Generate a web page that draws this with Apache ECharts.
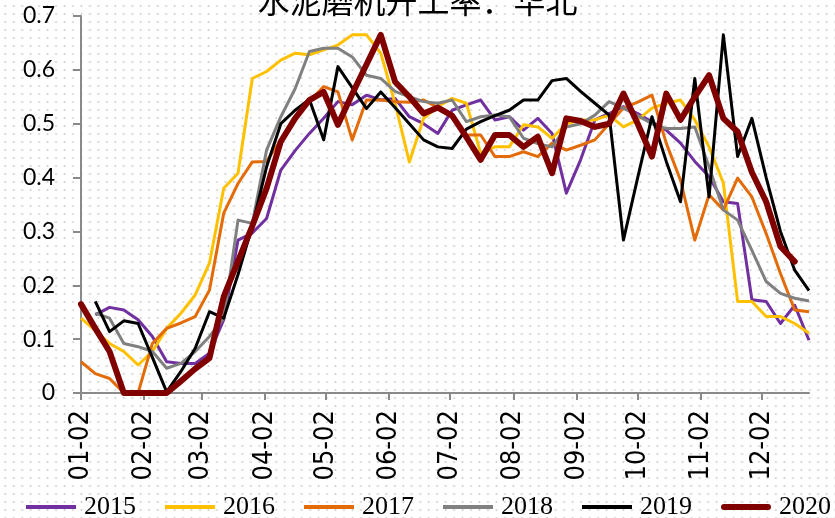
<!DOCTYPE html>
<html>
<head>
<meta charset="utf-8">
<script src="https://cdn.jsdelivr.net/npm/echarts@6/dist/echarts.min.js"></script>
<style>
html,body{margin:0;padding:0;background:#fff;}
#c{width:835px;height:518px;
background-color:#fff;
background-image:radial-gradient(circle, #cfcfcf 0.8px, rgba(255,255,255,0) 1.2px);
background-size:8.47px 8px;
background-position:1px 2px;}
</style>
</head>
<body>
<div id="c"></div>
<script>
// ---- data ----
const title = '水泥磨机开工率：华北';
const seriesNames = ['2015', '2016', '2017', '2018', '2019', '2020'];
const tickLabels = ['01-02','02-02','03-02','04-02','05-02','06-02','07-02','08-02','09-02','10-02','11-02','12-02'];
// first weekly point, in weeks after 01-02
const startWeek = [1, 0, 0, 1, 1, 0];
const v2015 = [0.145,0.159,0.154,0.136,0.105,0.058,0.055,0.055,0.074,0.136,0.284,0.297,0.324,0.414,0.45,0.482,0.51,0.541,0.535,0.553,0.544,0.547,0.513,0.50,0.482,0.525,0.535,0.544,0.507,0.513,0.488,0.51,0.482,0.371,0.433,0.507,0.519,0.532,0.519,0.503,0.488,0.464,0.43,0.402,0.355,0.352,0.173,0.17,0.129,0.163,0.098];
const v2016 = [0.139,0.116,0.092,0.077,0.052,0.077,0.12,0.148,0.182,0.241,0.38,0.408,0.584,0.597,0.618,0.631,0.628,0.637,0.646,0.665,0.665,0.631,0.538,0.429,0.51,0.532,0.547,0.538,0.445,0.457,0.457,0.498,0.494,0.473,0.50,0.507,0.507,0.516,0.494,0.507,0.529,0.538,0.544,0.507,0.457,0.39,0.17,0.17,0.142,0.142,0.129,0.111];
const v2017 = [0.058,0.036,0.027,0,0,0.092,0.12,0.13,0.142,0.191,0.334,0.389,0.429,0.43,0.47,0.513,0.541,0.569,0.559,0.47,0.544,0.544,0.541,0.54,0.544,0.53,0.516,0.479,0.479,0.439,0.439,0.448,0.439,0.464,0.451,0.46,0.47,0.50,0.529,0.54,0.553,0.464,0.395,0.284,0.368,0.34,0.399,0.364,0.296,0.222,0.154,0.151];
const v2018 = [0.148,0.139,0.092,0.086,0.077,0.046,0.055,0.077,0.105,0.139,0.321,0.315,0.451,0.513,0.565,0.634,0.64,0.64,0.624,0.59,0.584,0.56,0.55,0.541,0.538,0.544,0.504,0.513,0.516,0.513,0.473,0.463,0.457,0.494,0.50,0.516,0.541,0.529,0.515,0.50,0.491,0.491,0.494,0.42,0.34,0.321,0.265,0.207,0.185,0.176,0.171];
const v2019 = [0.17,0.114,0.134,0.129,0.066,0.002,0.04,0.083,0.151,0.139,0.22,0.31,0.42,0.50,0.525,0.545,0.47,0.606,0.567,0.528,0.559,0.53,0.50,0.47,0.457,0.454,0.49,0.504,0.515,0.525,0.544,0.544,0.58,0.584,0.56,0.538,0.516,0.284,0.40,0.513,0.43,0.355,0.584,0.364,0.665,0.439,0.51,0.40,0.30,0.228,0.19];
const v2020 = [0.165,0.12,0.077,0,0,0,0,0.022,0.045,0.065,0.179,0.245,0.31,0.38,0.467,0.51,0.544,0.559,0.498,0.555,0.61,0.665,0.578,0.55,0.519,0.53,0.515,0.475,0.433,0.479,0.479,0.457,0.476,0.408,0.51,0.505,0.494,0.50,0.556,0.50,0.439,0.556,0.507,0.55,0.59,0.51,0.485,0.41,0.355,0.272,0.244];
const values = [v2015, v2016, v2017, v2018, v2019, v2020];
const colors = ['#7030A0', '#FFC000', '#E36C09', '#808080', '#000000', '#800000'];
const widths = [3, 3, 3, 3, 3, 6];

// ---- daily category axis 01-02 .. 12-25 ----
const days = [];
for (let i = 0; i < 358; i++) {
  const d = new Date(Date.UTC(2021, 0, 2 + i));
  days.push(String(d.getUTCMonth() + 1).padStart(2, '0') + '-' + String(d.getUTCDate()).padStart(2, '0'));
}
const isTick = (idx) => tickLabels.indexOf(days[idx]) >= 0;

const series = seriesNames.map((name, k) => {
  const arr = new Array(days.length).fill(null);
  values[k].forEach((v, j) => { arr[(startWeek[k] + j) * 7] = v; });
  return {
    name: name, type: 'line', data: arr, connectNulls: true,
    showSymbol: false, symbol: 'none', smooth: false,
    lineStyle: { color: colors[k], width: widths[k], cap: k === 5 ? 'round' : 'butt', join: 'round' },
    itemStyle: { color: colors[k] },
    emphasis: { disabled: true }, z: 2 + k
  };
});

const thinIcon = 'path://M0,0h50v4h-50z';
const thickIcon = 'path://M3,0h44a3,3 0 0 1 0,6h-44a3,3 0 0 1 0,-6z';
const legendData = seriesNames.map((name, k) => ({
  name: name, icon: k === 5 ? thickIcon : thinIcon, itemStyle: { color: colors[k] }
}));

const chart = echarts.init(document.getElementById('c'), null, { renderer: 'canvas' });
chart.setOption({
  backgroundColor: 'transparent',
  animation: false,
  title: {
    text: title, left: 'center', top: -20,
    textStyle: { fontFamily: 'Noto Sans CJK SC', fontSize: 32, fontWeight: 'normal', color: '#000' }
  },
  grid: { left: 81, right: 26, top: 16, bottom: 125, containLabel: false },
  legend: {
    data: legendData, left: 21, top: 489, width: 814, itemGap: 29, itemWidth: 50, itemHeight: 14,
    symbolKeepAspect: true,
    textStyle: { fontFamily: 'Liberation Serif', fontSize: 26, color: '#000', padding: [0, 0, 0, 3] }
  },
  xAxis: {
    type: 'category', data: days, boundaryGap: false,
    axisLine: { lineStyle: { color: '#898989', width: 2 } },
    axisTick: { show: true, length: 7, interval: (i) => isTick(i), lineStyle: { color: '#898989', width: 2 } },
    axisLabel: { interval: (i) => isTick(i), rotate: 90, margin: 17, color: '#000',
      fontFamily: 'Liberation Sans Narrow, DejaVu Sans Condensed, sans-serif', fontSize: 27 },
    splitLine: { show: false }
  },
  yAxis: {
    type: 'value', min: 0, max: 0.7, interval: 0.1,
    axisLine: { show: true, lineStyle: { color: '#898989', width: 2 } },
    axisTick: { show: true, length: 8, lineStyle: { color: '#898989', width: 2 } },
    axisLabel: { margin: 26, color: '#000', fontFamily: 'Lato', fontSize: 23 },
    splitLine: { show: false }
  },
  series: series
});
</script>
</body>
</html>
